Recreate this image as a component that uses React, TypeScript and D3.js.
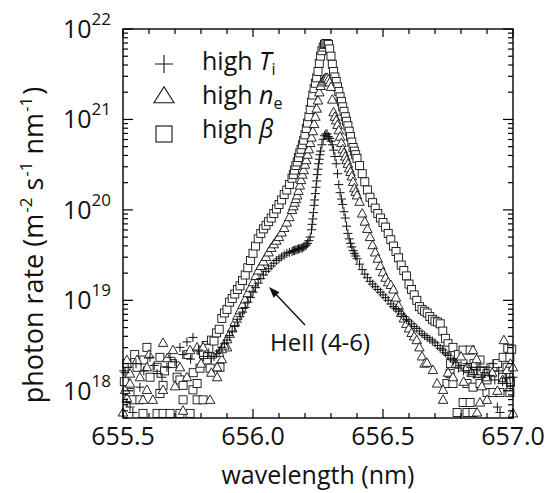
import React from 'react';
import * as d3 from 'd3';

// ---------- data (wavelength in nm, log10 of photon rate in m^-2 s^-1 nm^-1) ----------
const highTi: [number, number][] = [
  [655.503, 18.22], [655.508, 18.20], [655.515, 17.87], [655.520, 18.26], [655.527, 17.82], [655.538, 17.76],
  [655.550, 18.30], [655.565, 18.04], [655.580, 18.22], [655.604, 18.37], [655.620, 18.28], [655.631, 18.19],
  [655.650, 18.15], [655.669, 18.26], [655.681, 18.37], [655.700, 18.32], [655.719, 18.48], [655.730, 18.40],
  [655.746, 18.54], [655.760, 18.35], [655.769, 18.59], [655.790, 18.45], [655.810, 18.38], [655.830, 18.42],
  [655.840, 18.36],
  [655.85, 18.38], [655.86, 18.41], [655.87, 18.44], [655.88, 18.48], [655.89, 18.52], [655.90, 18.56],
  [655.91, 18.61], [655.92, 18.66], [655.93, 18.71], [655.94, 18.76], [655.95, 18.82], [655.96, 18.87],
  [655.97, 18.92], [655.98, 18.98], [655.99, 19.03], [656.00, 19.09], [656.01, 19.14], [656.02, 19.19],
  [656.03, 19.24], [656.04, 19.28], [656.05, 19.32], [656.06, 19.35], [656.07, 19.38], [656.08, 19.41],
  [656.09, 19.44], [656.10, 19.46], [656.11, 19.48], [656.12, 19.50], [656.13, 19.52], [656.14, 19.53],
  [656.150, 19.54], [656.155, 19.55], [656.160, 19.55], [656.165, 19.56], [656.170, 19.56], [656.175, 19.57],
  [656.180, 19.57], [656.185, 19.58], [656.190, 19.58], [656.195, 19.59], [656.200, 19.60], [656.205, 19.61],
  [656.210, 19.63], [656.215, 19.66], [656.220, 19.70], [656.225, 19.78], [656.2275, 19.84], [656.230, 19.90],
  [656.2325, 19.97], [656.235, 20.05], [656.2375, 20.11], [656.240, 20.18], [656.2425, 20.25], [656.245, 20.32],
  [656.2475, 20.39], [656.250, 20.45], [656.2525, 20.51], [656.255, 20.56], [656.2575, 20.61], [656.260, 20.65],
  [656.265, 20.72], [656.270, 20.78], [656.275, 20.82], [656.280, 20.84], [656.285, 20.84], [656.290, 20.81],
  [656.295, 20.79], [656.300, 20.76], [656.305, 20.72], [656.310, 20.66], [656.315, 20.59], [656.320, 20.51],
  [656.325, 20.40], [656.330, 20.28], [656.335, 20.19], [656.340, 20.12], [656.345, 20.06], [656.350, 19.98],
  [656.355, 19.91], [656.360, 19.82], [656.365, 19.74], [656.370, 19.68], [656.375, 19.63], [656.380, 19.59],
  [656.385, 19.55], [656.390, 19.52], [656.395, 19.49], [656.400, 19.46], [656.41, 19.40], [656.42, 19.34],
  [656.43, 19.29], [656.44, 19.25], [656.45, 19.21], [656.46, 19.18], [656.47, 19.15], [656.48, 19.12],
  [656.49, 19.09], [656.50, 19.06], [656.51, 19.03], [656.52, 19.00], [656.53, 18.96], [656.54, 18.93],
  [656.55, 18.91], [656.56, 18.88], [656.57, 18.85], [656.58, 18.82], [656.59, 18.79], [656.60, 18.77],
  [656.61, 18.74], [656.62, 18.71], [656.63, 18.69], [656.64, 18.66], [656.65, 18.63], [656.66, 18.61],
  [656.67, 18.59], [656.68, 18.57], [656.69, 18.55], [656.70, 18.53], [656.71, 18.50], [656.72, 18.47],
  [656.73, 18.45], [656.74, 18.42], [656.75, 18.39], [656.76, 18.36], [656.77, 18.33], [656.78, 18.31],
  [656.79, 18.25], [656.80, 18.28], [656.81, 18.22], [656.823, 18.30], [656.83, 18.20], [656.84, 18.26],
  [656.85, 18.18], [656.86, 18.23], [656.873, 18.26], [656.88, 18.15], [656.89, 18.20], [656.900, 18.26],
  [656.91, 18.17], [656.923, 18.30], [656.93, 18.12], [656.94, 17.82], [656.945, 18.22], [656.950, 17.76],
  [656.96, 18.10], [656.97, 18.14], [656.977, 18.08], [656.988, 18.15], [656.99, 18.05], [657.000, 18.15],
];

const highNe: [number, number][] = [
  [655.500, 17.76], [655.508, 18.01], [655.515, 17.92], [655.515, 18.34], [655.527, 18.08], [655.527, 18.19],
  [655.554, 18.34], [655.565, 18.15], [655.577, 17.90], [655.592, 18.26], [655.592, 18.01], [655.600, 18.40],
  [655.615, 17.90], [655.654, 18.53], [655.654, 18.01], [655.670, 18.36], [655.692, 18.45], [655.700, 18.05],
  [655.719, 18.26], [655.731, 17.78], [655.746, 18.15], [655.758, 18.45], [655.785, 18.48], [655.800, 18.30],
  [655.808, 18.48], [655.835, 17.90], [655.840, 18.20], [655.862, 18.15], [655.862, 18.26], [655.880, 18.35],
  [655.900, 18.48],
  [655.87, 18.42], [655.88, 18.46], [655.89, 18.50], [655.90, 18.57], [655.91, 18.63], [655.92, 18.69],
  [655.93, 18.76], [655.94, 18.83], [655.95, 18.89], [655.96, 18.95], [655.97, 19.01], [655.98, 19.08],
  [655.99, 19.14], [656.00, 19.20], [656.01, 19.27], [656.02, 19.33], [656.03, 19.38], [656.04, 19.43],
  [656.05, 19.48], [656.06, 19.53], [656.07, 19.58], [656.08, 19.62], [656.09, 19.66], [656.10, 19.70],
  [656.11, 19.75], [656.12, 19.80], [656.13, 19.86], [656.14, 19.92], [656.15, 20.00], [656.155, 20.04],
  [656.160, 20.08], [656.165, 20.12], [656.170, 20.16], [656.175, 20.21], [656.180, 20.27], [656.185, 20.33],
  [656.190, 20.39], [656.195, 20.44], [656.200, 20.50], [656.205, 20.55], [656.210, 20.61], [656.215, 20.67],
  [656.220, 20.74], [656.225, 20.80], [656.230, 20.87], [656.235, 20.95], [656.240, 21.03], [656.245, 21.12],
  [656.250, 21.21], [656.255, 21.30], [656.260, 21.37], [656.265, 21.41], [656.270, 21.43], [656.275, 21.45],
  [656.280, 21.46], [656.285, 21.46], [656.290, 21.44], [656.295, 21.41], [656.300, 21.36], [656.305, 21.22],
  [656.310, 21.08], [656.315, 21.03], [656.320, 20.99], [656.325, 20.94], [656.330, 20.88], [656.335, 20.81],
  [656.340, 20.74], [656.345, 20.67], [656.350, 20.63], [656.355, 20.59], [656.360, 20.55], [656.365, 20.51],
  [656.370, 20.46], [656.375, 20.42], [656.380, 20.37], [656.385, 20.31], [656.390, 20.24], [656.395, 20.20],
  [656.400, 20.16], [656.41, 20.09], [656.42, 19.96], [656.43, 19.87], [656.44, 19.79], [656.45, 19.70],
  [656.46, 19.61], [656.47, 19.53], [656.48, 19.46], [656.49, 19.38], [656.50, 19.31], [656.51, 19.25],
  [656.52, 19.20], [656.53, 19.17], [656.54, 19.12], [656.55, 19.03], [656.56, 18.94], [656.57, 18.86],
  [656.58, 18.80], [656.59, 18.74], [656.60, 18.69], [656.61, 18.64], [656.62, 18.60], [656.63, 18.56],
  [656.64, 18.48], [656.65, 18.38], [656.66, 18.30], [656.669, 18.31], [656.692, 18.23], [656.708, 18.08],
  [656.731, 18.01], [656.731, 17.90], [656.750, 18.20], [656.769, 18.15], [656.780, 18.30], [656.800, 18.38],
  [656.810, 18.10], [656.823, 18.26], [656.840, 18.20], [656.846, 18.45], [656.860, 18.35], [656.862, 17.76],
  [656.873, 17.87], [656.880, 18.05], [656.900, 17.90], [656.900, 18.15], [656.920, 18.20], [656.940, 18.00],
  [656.960, 18.12], [656.965, 18.56], [656.977, 18.23], [656.990, 18.30], [657.000, 18.26], [657.000, 17.75],
];

const highBeta: [number, number][] = [
  [655.505, 18.10], [655.515, 18.30], [655.527, 17.98], [655.538, 17.90], [655.545, 18.40], [655.554, 18.26],
  [655.565, 17.90], [655.577, 17.75], [655.580, 18.34], [655.592, 18.48], [655.604, 18.15], [655.631, 18.26],
  [655.631, 17.75], [655.642, 18.37], [655.642, 17.97], [655.654, 18.06], [655.654, 17.75], [655.660, 18.22],
  [655.681, 17.75], [655.690, 18.30], [655.708, 18.15], [655.719, 18.12], [655.719, 17.75], [655.731, 18.06],
  [655.731, 17.90], [655.750, 18.40], [655.758, 17.75], [655.769, 18.01], [655.770, 18.20], [655.785, 18.08],
  [655.785, 17.90], [655.796, 18.25], [655.808, 17.90], [655.823, 18.34], [655.835, 18.25], [655.873, 18.26],
  [655.80, 18.45], [655.81, 18.40], [655.82, 18.50], [655.83, 18.47], [655.84, 18.56], [655.85, 18.55],
  [655.86, 18.64], [655.87, 18.68], [655.88, 18.80], [655.89, 18.86], [655.90, 18.90], [655.91, 18.98],
  [655.92, 19.02], [655.93, 19.07], [655.94, 19.12], [655.95, 19.16], [655.96, 19.22], [655.97, 19.28],
  [655.98, 19.36], [655.99, 19.44], [656.00, 19.52], [656.01, 19.60], [656.02, 19.68], [656.03, 19.74],
  [656.04, 19.79], [656.05, 19.83], [656.06, 19.87], [656.07, 19.91], [656.08, 19.96], [656.09, 20.01],
  [656.10, 20.06], [656.11, 20.11], [656.12, 20.17], [656.13, 20.22], [656.14, 20.28], [656.15, 20.35],
  [656.155, 20.39], [656.160, 20.44], [656.165, 20.49], [656.170, 20.53], [656.175, 20.58], [656.180, 20.63],
  [656.185, 20.67], [656.190, 20.72], [656.195, 20.77], [656.200, 20.83], [656.205, 20.90], [656.210, 20.96],
  [656.215, 21.03], [656.220, 21.11], [656.225, 21.19], [656.230, 21.27], [656.235, 21.34], [656.240, 21.40],
  [656.245, 21.46], [656.250, 21.53], [656.255, 21.62], [656.260, 21.70], [656.265, 21.76], [656.270, 21.80],
  [656.275, 21.83], [656.280, 21.84], [656.285, 21.84], [656.290, 21.83], [656.295, 21.78], [656.300, 21.70],
  [656.305, 21.61], [656.310, 21.53], [656.315, 21.47], [656.320, 21.42], [656.325, 21.36], [656.330, 21.31],
  [656.335, 21.25], [656.340, 21.20], [656.345, 21.14], [656.350, 21.09], [656.355, 21.03], [656.360, 20.98],
  [656.365, 20.93], [656.370, 20.87], [656.375, 20.81], [656.380, 20.75], [656.385, 20.69], [656.390, 20.65],
  [656.395, 20.61], [656.400, 20.57], [656.41, 20.49], [656.42, 20.40], [656.43, 20.31], [656.44, 20.22],
  [656.45, 20.14], [656.46, 20.08], [656.47, 20.02], [656.48, 19.96], [656.49, 19.91], [656.50, 19.86],
  [656.51, 19.81], [656.52, 19.74], [656.53, 19.67], [656.54, 19.60], [656.55, 19.54], [656.56, 19.47],
  [656.57, 19.39], [656.58, 19.33], [656.59, 19.27], [656.60, 19.18], [656.61, 19.12], [656.62, 19.06],
  [656.63, 19.00], [656.64, 18.93], [656.65, 18.90], [656.66, 18.88], [656.67, 18.86], [656.68, 18.82],
  [656.69, 18.79], [656.70, 18.77], [656.71, 18.76], [656.72, 18.74], [656.73, 18.66], [656.74, 18.58],
  [656.75, 18.52],
  [656.746, 18.45], [656.769, 18.48], [656.758, 18.19], [656.746, 18.08], [656.769, 18.08], [656.760, 18.30],
  [656.785, 17.76], [656.790, 18.40], [656.808, 18.45], [656.808, 17.87], [656.823, 18.08], [656.823, 17.76],
  [656.835, 18.45], [656.835, 17.87], [656.846, 18.04], [656.846, 17.76], [656.850, 18.30], [656.862, 18.19],
  [656.873, 18.34], [656.873, 18.08], [656.880, 18.22], [656.900, 18.19], [656.900, 18.12], [656.900, 17.98],
  [656.923, 18.26], [656.923, 17.98], [656.940, 18.30], [656.950, 17.98], [656.962, 18.37], [656.960, 18.15],
  [656.977, 18.26], [656.980, 18.47], [656.988, 18.37], [656.988, 17.98], [656.990, 18.10], [656.995, 18.46],
];

const xMajorTicks = [655.5, 656.0, 656.5, 657.0];
const xTickLabels = ['655.5', '656.0', '656.5', '657.0'];
const yDecadeExponents = [18, 19, 20, 21, 22];

const FONT = '"Open Sans", "Noto Sans", sans-serif';

export default function App() {
  const left = 123, right = 513, top = 29, bottom = 418;
  const x = d3.scaleLinear().domain([655.5, 657.0]).range([left, right]);
  const y = d3.scaleLog().domain([5e17, 1e22]).range([bottom, top]);

  const xMinor = d3.range(0, 16).map((i) => 655.5 + i * 0.1).filter((v) => !xMajorTicks.some((m) => Math.abs(m - v) < 1e-6));
  const yAll = y.ticks(50).filter((v) => v >= 5e17 && v <= 1e22);
  const isDecade = (v: number) => Math.abs(Math.log10(v) - Math.round(Math.log10(v))) < 1e-6;
  const yMinor = yAll.filter((v) => !isDecade(v));

  const plusPath = (r: number) => `M${-r},0H${r}M0,${-r}V${r}`;
  const triPath = (w: number, h: number) => `M0,${-h * 0.58}L${w / 2},${h * 0.42}L${-w / 2},${h * 0.42}Z`;

  const rate = (l: number) => Math.pow(10, l);

  const arrowFrom = { x: 305, y: 325 };
  const arrowTo = { x: 269, y: 287 };
  const ang = Math.atan2(arrowTo.y - arrowFrom.y, arrowTo.x - arrowFrom.x);
  const hl = 11, hw = 4;
  const hx = arrowTo.x, hy = arrowTo.y;
  const bx = hx - hl * Math.cos(ang), by = hy - hl * Math.sin(ang);
  const headPts = `${hx},${hy} ${bx - hw * Math.sin(ang)},${by + hw * Math.cos(ang)} ${bx + hw * Math.sin(ang)},${by - hw * Math.cos(ang)}`;

  return (
    <svg width={546} height={493} style={{ position: 'absolute', left: 0, top: 0, background: '#fff' }} fontFamily={FONT}>
      <rect x={0} y={0} width={546} height={493} fill="#fff" />
      {/* data: high beta (squares) */}
      <g stroke="#111" strokeWidth={0.9} fill="#fff">
        {highBeta.map((d, i) => (
          <rect key={'b' + i} x={x(d[0]) - 4} y={y(rate(d[1])) - 4} width={8} height={8} />
        ))}
      </g>
      {/* high n_e (triangles) */}
      <g stroke="#111" strokeWidth={0.9} fill="#fff">
        {highNe.map((d, i) => (
          <path key={'n' + i} d={triPath(9.5, 8.5)} transform={`translate(${x(d[0])},${y(rate(d[1]))})`} />
        ))}
      </g>
      {/* high T_i (plus) */}
      <g stroke="#111" strokeWidth={1} fill="none">
        {highTi.map((d, i) => (
          <path key={'t' + i} d={plusPath(4.5)} transform={`translate(${x(d[0])},${y(rate(d[1]))})`} />
        ))}
      </g>

      {/* frame */}
      <rect x={left} y={top} width={right - left} height={bottom - top} fill="none" stroke="#000" strokeWidth={1.4} />
      {/* ticks */}
      <g stroke="#000" strokeWidth={1.2}>
        {xMajorTicks.map((v) => (
          <g key={'xm' + v}>
            <line x1={x(v)} x2={x(v)} y1={bottom} y2={bottom - 9} />
            <line x1={x(v)} x2={x(v)} y1={top} y2={top + 8} />
          </g>
        ))}
        {xMinor.map((v) => (
          <g key={'xn' + v}>
            <line x1={x(v)} x2={x(v)} y1={bottom} y2={bottom - 5} />
            <line x1={x(v)} x2={x(v)} y1={top} y2={top + 5} />
          </g>
        ))}
        {yDecadeExponents.map((e) => (
          <g key={'ym' + e}>
            <line x1={left} x2={left + 10} y1={y(Math.pow(10, e))} y2={y(Math.pow(10, e))} />
            <line x1={right} x2={right - 10} y1={y(Math.pow(10, e))} y2={y(Math.pow(10, e))} />
          </g>
        ))}
        {yMinor.map((v, i) => (
          <g key={'yn' + i}>
            <line x1={left} x2={left + 5} y1={y(v)} y2={y(v)} />
            <line x1={right} x2={right - 5} y1={y(v)} y2={y(v)} />
          </g>
        ))}
      </g>
      {/* x tick labels */}
      {xMajorTicks.map((v, i) => (
        <text key={'xl' + v} x={x(v)} y={445} textAnchor="middle" fontSize={25} fill="#111">
          {xTickLabels[i]}
        </text>
      ))}
      {/* y tick labels */}
      {yDecadeExponents.map((e) => (
        <text key={'yl' + e} x={111} y={y(Math.pow(10, e)) + 9} textAnchor="end" fontSize={25} fill="#111">
          10<tspan fontSize={17} dy={-13}>{e}</tspan>
        </text>
      ))}
      {/* axis titles */}
      <text x={318} y={484} textAnchor="middle" fontSize={25} fill="#111">wavelength (nm)</text>
      <text transform="translate(43,245) rotate(-90)" textAnchor="middle" fontSize={27} fill="#111">
        photon rate (m<tspan fontSize={17} dx={1} dy={-11}>-2</tspan>
        <tspan dy={11}> s</tspan><tspan fontSize={17} dx={1} dy={-11}>-1</tspan>
        <tspan dy={11}> nm</tspan><tspan fontSize={17} dx={1} dy={-11}>-1</tspan>
        <tspan dx={2} dy={11}>)</tspan>
      </text>

      {/* legend */}
      <g stroke="#111" strokeWidth={1.1} fill="none">
        <path d={plusPath(9)} transform="translate(164,64)" />
        <path d={triPath(20, 16)} transform="translate(164,96)" fill="#fff" />
        <rect x={156} y={126} width={16} height={16} fill="#fff" />
      </g>
      <text x={202} y={70} fontSize={25} fill="#111">
        high <tspan fontStyle="italic">T</tspan><tspan fontSize={16} dy={5}>i</tspan>
      </text>
      <text x={202} y={104} fontSize={25} fill="#111">
        high <tspan fontStyle="italic">n</tspan><tspan fontSize={16} dy={5}>e</tspan>
      </text>
      <text x={202} y={138} fontSize={25} fill="#111">
        high <tspan fontStyle="italic">β</tspan>
      </text>

      {/* annotation */}
      <line x1={arrowFrom.x} y1={arrowFrom.y} x2={bx} y2={by} stroke="#111" strokeWidth={1.4} />
      <polygon points={headPts} fill="#111" />
      <text x={270} y={351} fontSize={24} fill="#111">HeII (4-6)</text>
    </svg>
  );
}
